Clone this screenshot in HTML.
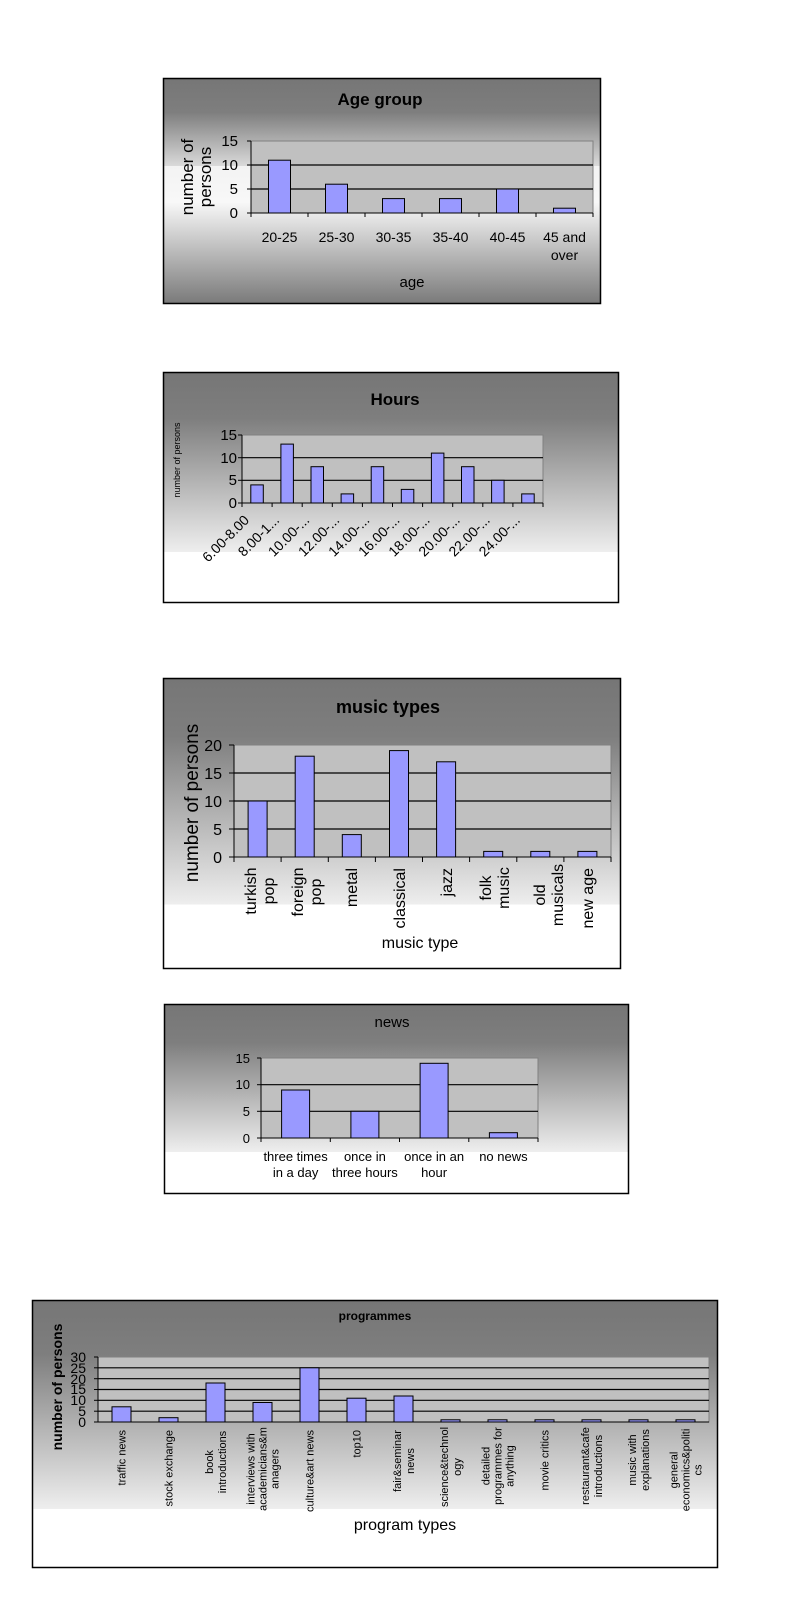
<!DOCTYPE html>
<html><head><meta charset="utf-8"><style>
html,body{margin:0;padding:0;background:#fff;}
svg{display:block;font-family:"Liberation Sans",sans-serif;}
</style></head><body>
<svg width="800" height="1600" viewBox="0 0 800 1600" xmlns="http://www.w3.org/2000/svg">
<defs>
<linearGradient id="g1" x1="0" y1="0" x2="0" y2="1">
<stop offset="0" stop-color="#767676"/><stop offset="0.15" stop-color="#7e7e7e"/><stop offset="0.39" stop-color="#dadada"/><stop offset="0.39" stop-color="#f3f3f3"/><stop offset="0.55" stop-color="#f8f8f8"/><stop offset="1" stop-color="#7a7a7a"/>
</linearGradient>
<linearGradient id="g2" x1="0" y1="0" x2="0" y2="1">
<stop offset="0" stop-color="#767676"/><stop offset="0.2" stop-color="#7e7e7e"/><stop offset="0.78" stop-color="#eeeeee"/><stop offset="0.78" stop-color="#ffffff"/><stop offset="1" stop-color="#ffffff"/>
</linearGradient>
</defs>

<!-- Chart 1: Age group -->
<rect x="163.5" y="78.5" width="437" height="225" fill="url(#g1)" stroke="#000" stroke-width="1.5"/>
<text x="380" y="105" font-size="17" font-weight="bold" text-anchor="middle">Age group</text>
<rect x="251" y="141" width="342" height="72" fill="#c0c0c0" stroke="#808080"/>
<g stroke="#000" stroke-width="1.2">
<line x1="251" y1="165" x2="593" y2="165"/><line x1="251" y1="189" x2="593" y2="189"/>
</g>
<g fill="#9999ff" stroke="#000">
<rect x="268.5" y="160.2" width="22" height="52.8"/><rect x="325.5" y="184.2" width="22" height="28.8"/>
<rect x="382.5" y="198.6" width="22" height="14.4"/><rect x="439.5" y="198.6" width="22" height="14.4"/>
<rect x="496.5" y="189" width="22" height="24"/><rect x="553.5" y="208.2" width="22" height="4.8"/>
</g>
<g stroke="#000">
<line x1="251" y1="141" x2="251" y2="213"/><line x1="251" y1="213" x2="593" y2="213"/>
<line x1="247" y1="141" x2="251" y2="141"/><line x1="247" y1="165" x2="251" y2="165"/><line x1="247" y1="189" x2="251" y2="189"/><line x1="247" y1="213" x2="251" y2="213"/>
<line x1="308" y1="213" x2="308" y2="217"/><line x1="365" y1="213" x2="365" y2="217"/><line x1="422" y1="213" x2="422" y2="217"/><line x1="479" y1="213" x2="479" y2="217"/><line x1="536" y1="213" x2="536" y2="217"/><line x1="593" y1="213" x2="593" y2="217"/><line x1="251" y1="213" x2="251" y2="217"/>
</g>
<g font-size="15" text-anchor="end">
<text x="238" y="146">15</text><text x="238" y="170">10</text><text x="238" y="194">5</text><text x="238" y="218">0</text>
</g>
<g font-size="14" text-anchor="middle">
<text x="279.5" y="242">20-25</text><text x="336.5" y="242">25-30</text><text x="393.5" y="242">30-35</text><text x="450.5" y="242">35-40</text><text x="507.5" y="242">40-45</text><text x="564.5" y="242">45 and</text><text x="564.5" y="260">over</text>
</g>
<text x="412" y="287" font-size="15" text-anchor="middle">age</text>
<g font-size="17" text-anchor="middle">
<text transform="translate(193,177) rotate(-90)">number of</text>
<text transform="translate(211,177) rotate(-90)">persons</text>
</g>

<!-- Chart 2: Hours -->
<rect x="163.5" y="372.5" width="455" height="230" fill="url(#g2)" stroke="#000" stroke-width="1.5"/>
<text x="395" y="405" font-size="17" font-weight="bold" text-anchor="middle">Hours</text>
<rect x="242" y="435" width="301" height="68" fill="#c0c0c0" stroke="#808080"/>
<g stroke="#000" stroke-width="1.2">
<line x1="242" y1="457.7" x2="543" y2="457.7"/><line x1="242" y1="480.3" x2="543" y2="480.3"/>
</g>
<g fill="#9999ff" stroke="#000">
<rect x="250.8" y="484.9" width="12.5" height="18.1"/>
<rect x="280.9" y="444.1" width="12.5" height="58.9"/>
<rect x="311" y="466.7" width="12.5" height="36.3"/>
<rect x="341.1" y="493.9" width="12.5" height="9.1"/>
<rect x="371.2" y="466.7" width="12.5" height="36.3"/>
<rect x="401.3" y="489.4" width="12.5" height="13.6"/>
<rect x="431.4" y="453.1" width="12.5" height="49.9"/>
<rect x="461.5" y="466.7" width="12.5" height="36.3"/>
<rect x="491.6" y="480.3" width="12.5" height="22.7"/>
<rect x="521.7" y="493.9" width="12.5" height="9.1"/>
</g>
<g stroke="#000">
<line x1="242" y1="435" x2="242" y2="503"/><line x1="242" y1="503" x2="543" y2="503"/>
<line x1="238" y1="435" x2="242" y2="435"/><line x1="238" y1="457.7" x2="242" y2="457.7"/><line x1="238" y1="480.3" x2="242" y2="480.3"/><line x1="238" y1="503" x2="242" y2="503"/>
<line x1="242" y1="503" x2="242" y2="507"/><line x1="272.1" y1="503" x2="272.1" y2="507"/><line x1="302.2" y1="503" x2="302.2" y2="507"/><line x1="332.3" y1="503" x2="332.3" y2="507"/><line x1="362.4" y1="503" x2="362.4" y2="507"/><line x1="392.5" y1="503" x2="392.5" y2="507"/><line x1="422.6" y1="503" x2="422.6" y2="507"/><line x1="452.7" y1="503" x2="452.7" y2="507"/><line x1="482.8" y1="503" x2="482.8" y2="507"/><line x1="512.9" y1="503" x2="512.9" y2="507"/><line x1="543" y1="503" x2="543" y2="507"/>
</g>
<g font-size="15" text-anchor="end">
<text x="237" y="440">15</text><text x="237" y="463">10</text><text x="237" y="485">5</text><text x="237" y="508">0</text>
</g>
<text transform="translate(180,460) rotate(-90)" font-size="9" text-anchor="middle">number of persons</text>
<g font-size="14" text-anchor="end">
<text transform="translate(250,521) rotate(-45)">6.00-8.00</text>
<text transform="translate(280.1,521) rotate(-45)">8.00-1...</text>
<text transform="translate(310.2,521) rotate(-45)">10.00-...</text>
<text transform="translate(340.3,521) rotate(-45)">12.00-...</text>
<text transform="translate(370.4,521) rotate(-45)">14.00-...</text>
<text transform="translate(400.5,521) rotate(-45)">16.00-...</text>
<text transform="translate(430.6,521) rotate(-45)">18.00-...</text>
<text transform="translate(460.7,521) rotate(-45)">20.00-...</text>
<text transform="translate(490.8,521) rotate(-45)">22.00-...</text>
<text transform="translate(520.9,521) rotate(-45)">24.00-...</text>
</g>

<!-- Chart 3: music types -->
<rect x="163.5" y="678.5" width="457" height="290" fill="url(#g2)" stroke="#000" stroke-width="1.5"/>
<text x="388" y="713" font-size="18" font-weight="bold" text-anchor="middle">music types</text>
<rect x="234" y="745" width="377" height="112" fill="#c0c0c0" stroke="#808080"/>
<g stroke="#000" stroke-width="1.2">
<line x1="234" y1="773" x2="611" y2="773"/><line x1="234" y1="801" x2="611" y2="801"/><line x1="234" y1="829" x2="611" y2="829"/>
</g>
<g fill="#9999ff" stroke="#000">
<rect x="248.1" y="801" width="19" height="56"/>
<rect x="295.2" y="756.2" width="19" height="100.8"/>
<rect x="342.3" y="834.6" width="19" height="22.4"/>
<rect x="389.5" y="750.6" width="19" height="106.4"/>
<rect x="436.6" y="761.8" width="19" height="95.2"/>
<rect x="483.7" y="851.4" width="19" height="5.6"/>
<rect x="530.8" y="851.4" width="19" height="5.6"/>
<rect x="577.9" y="851.4" width="19" height="5.6"/>
</g>
<g stroke="#000">
<line x1="234" y1="745" x2="234" y2="857"/><line x1="234" y1="857" x2="611" y2="857"/>
<line x1="229" y1="745" x2="234" y2="745"/><line x1="229" y1="773" x2="234" y2="773"/><line x1="229" y1="801" x2="234" y2="801"/><line x1="229" y1="829" x2="234" y2="829"/><line x1="229" y1="857" x2="234" y2="857"/>
<line x1="234" y1="857" x2="234" y2="862"/><line x1="281.1" y1="857" x2="281.1" y2="862"/><line x1="328.3" y1="857" x2="328.3" y2="862"/><line x1="375.4" y1="857" x2="375.4" y2="862"/><line x1="422.5" y1="857" x2="422.5" y2="862"/><line x1="469.6" y1="857" x2="469.6" y2="862"/><line x1="516.8" y1="857" x2="516.8" y2="862"/><line x1="563.9" y1="857" x2="563.9" y2="862"/><line x1="611" y1="857" x2="611" y2="862"/>
</g>
<g font-size="16" text-anchor="end">
<text x="222" y="751">20</text><text x="222" y="779">15</text><text x="222" y="807">10</text><text x="222" y="835">5</text><text x="222" y="863">0</text>
</g>
<text transform="translate(198,803) rotate(-90)" font-size="19" text-anchor="middle">number of persons</text>
<g font-size="16" text-anchor="middle">
<text transform="translate(256,891) rotate(-90)">turkish</text>
<text transform="translate(274,891) rotate(-90)">pop</text>
<text transform="translate(303,892) rotate(-90)">foreign</text>
<text transform="translate(321,892) rotate(-90)">pop</text>
<text transform="translate(491,888) rotate(-90)">folk</text>
<text transform="translate(509,888) rotate(-90)">music</text>
<text transform="translate(545,895) rotate(-90)">old</text>
<text transform="translate(563,895) rotate(-90)">musicals</text>
</g>
<g font-size="16" text-anchor="end">
<text transform="translate(357,868) rotate(-90)">metal</text>
<text transform="translate(405,868) rotate(-90)">classical</text>
<text transform="translate(452,868) rotate(-90)">jazz</text>
<text transform="translate(593,868) rotate(-90)">new age</text>
</g>
<text x="420" y="948" font-size="16" text-anchor="middle">music type</text>

<!-- Chart 4: news -->
<rect x="164.5" y="1004.5" width="464" height="189" fill="url(#g2)" stroke="#000" stroke-width="1.5"/>
<text x="392" y="1027" font-size="15" text-anchor="middle">news</text>
<rect x="261" y="1058" width="277" height="80" fill="#c0c0c0" stroke="#808080"/>
<g stroke="#000" stroke-width="1.2">
<line x1="261" y1="1084.7" x2="538" y2="1084.7"/><line x1="261" y1="1111.3" x2="538" y2="1111.3"/>
</g>
<g fill="#9999ff" stroke="#000">
<rect x="281.6" y="1090" width="28" height="48"/>
<rect x="350.9" y="1111.3" width="28" height="26.7"/>
<rect x="420.1" y="1063.3" width="28" height="74.7"/>
<rect x="489.4" y="1132.7" width="28" height="5.3"/>
</g>
<g stroke="#000">
<line x1="261" y1="1058" x2="261" y2="1138"/><line x1="261" y1="1138" x2="538" y2="1138"/>
<line x1="257" y1="1058" x2="261" y2="1058"/><line x1="257" y1="1084.7" x2="261" y2="1084.7"/><line x1="257" y1="1111.3" x2="261" y2="1111.3"/><line x1="257" y1="1138" x2="261" y2="1138"/>
<line x1="261" y1="1138" x2="261" y2="1142"/><line x1="330.3" y1="1138" x2="330.3" y2="1142"/><line x1="399.5" y1="1138" x2="399.5" y2="1142"/><line x1="468.8" y1="1138" x2="468.8" y2="1142"/><line x1="538" y1="1138" x2="538" y2="1142"/>
</g>
<g font-size="13" text-anchor="end">
<text x="250" y="1063">15</text><text x="250" y="1089">10</text><text x="250" y="1116">5</text><text x="250" y="1143">0</text>
</g>
<g font-size="13" text-anchor="middle">
<text x="295.6" y="1161">three times</text><text x="295.6" y="1177">in a day</text>
<text x="364.9" y="1161">once in</text><text x="364.9" y="1177">three hours</text>
<text x="434.1" y="1161">once in an</text><text x="434.1" y="1177">hour</text>
<text x="503.4" y="1161">no news</text>
</g>

<!-- Chart 5: programmes -->
<rect x="32.5" y="1300.5" width="685" height="267" fill="url(#g2)" stroke="#000" stroke-width="1.5"/>
<text x="375" y="1320" font-size="12" font-weight="bold" text-anchor="middle">programmes</text>
<rect x="98" y="1357" width="611" height="65" fill="#c0c0c0" stroke="#808080"/>
<g stroke="#000" stroke-width="1.2">
<line x1="98" y1="1367.8" x2="709" y2="1367.8"/><line x1="98" y1="1378.7" x2="709" y2="1378.7"/><line x1="98" y1="1389.5" x2="709" y2="1389.5"/><line x1="98" y1="1400.3" x2="709" y2="1400.3"/><line x1="98" y1="1411.2" x2="709" y2="1411.2"/>
</g>
<g fill="#9999ff" stroke="#000">
<rect x="112" y="1406.8" width="19" height="15.2"/>
<rect x="159" y="1417.7" width="19" height="4.3"/>
<rect x="206" y="1383" width="19" height="39"/>
<rect x="253" y="1402.5" width="19" height="19.5"/>
<rect x="300" y="1367.8" width="19" height="54.2"/>
<rect x="347" y="1398.2" width="19" height="23.8"/>
<rect x="394" y="1396" width="19" height="26"/>
<rect x="441" y="1419.8" width="19" height="2.2"/>
<rect x="488" y="1419.8" width="19" height="2.2"/>
<rect x="535" y="1419.8" width="19" height="2.2"/>
<rect x="582" y="1419.8" width="19" height="2.2"/>
<rect x="629" y="1419.8" width="19" height="2.2"/>
<rect x="676" y="1419.8" width="19" height="2.2"/>
</g>
<g stroke="#000">
<line x1="98" y1="1357" x2="98" y2="1422"/><line x1="98" y1="1422" x2="709" y2="1422"/>
<line x1="94" y1="1357" x2="98" y2="1357"/><line x1="94" y1="1367.8" x2="98" y2="1367.8"/><line x1="94" y1="1378.7" x2="98" y2="1378.7"/><line x1="94" y1="1389.5" x2="98" y2="1389.5"/><line x1="94" y1="1400.3" x2="98" y2="1400.3"/><line x1="94" y1="1411.2" x2="98" y2="1411.2"/><line x1="94" y1="1422" x2="98" y2="1422"/>
</g>
<g font-size="14" text-anchor="end">
<text x="86" y="1362">30</text><text x="86" y="1373">25</text><text x="86" y="1384">20</text><text x="86" y="1394">15</text><text x="86" y="1405">10</text><text x="86" y="1416">5</text><text x="86" y="1427">0</text>
</g>
<text transform="translate(62,1387) rotate(-90)" font-size="14" font-weight="bold" text-anchor="middle">number of persons</text>
<g font-size="11" text-anchor="end">
<text transform="translate(125.5,1430) rotate(-90)">traffic news</text>
<text transform="translate(172.5,1430) rotate(-90)">stock exchange</text>
<text transform="translate(313.5,1430) rotate(-90)">culture&amp;art news</text>
<text transform="translate(360.5,1430) rotate(-90)">top10</text>
<text transform="translate(548.5,1430) rotate(-90)">movie critics</text>
</g>
<g font-size="11" text-anchor="middle">
<text transform="translate(213,1462) rotate(-90)">book</text>
<text transform="translate(226,1462) rotate(-90)">introductions</text>
<text transform="translate(254.5,1469) rotate(-90)">interviews with</text>
<text transform="translate(266.5,1469) rotate(-90)">academicians&amp;m</text>
<text transform="translate(278.5,1469) rotate(-90)">anagers</text>
<text transform="translate(401,1461) rotate(-90)">fair&amp;seminar</text>
<text transform="translate(414,1461) rotate(-90)">news</text>
<text transform="translate(448,1467) rotate(-90)">science&amp;technol</text>
<text transform="translate(461,1467) rotate(-90)">ogy</text>
<text transform="translate(489.5,1466) rotate(-90)">detailed</text>
<text transform="translate(501.5,1466) rotate(-90)">programmes for</text>
<text transform="translate(513.5,1466) rotate(-90)">anything</text>
<text transform="translate(589,1466) rotate(-90)">restaurant&amp;cafe</text>
<text transform="translate(602,1466) rotate(-90)">introductions</text>
<text transform="translate(636,1460) rotate(-90)">music with</text>
<text transform="translate(649,1460) rotate(-90)">explanations</text>
<text transform="translate(677.5,1470) rotate(-90)">general</text>
<text transform="translate(689.5,1470) rotate(-90)">economics&amp;politi</text>
<text transform="translate(701.5,1470) rotate(-90)">cs</text>
</g>
<text x="405" y="1530" font-size="16" text-anchor="middle">program types</text>
</svg>
</body></html>
